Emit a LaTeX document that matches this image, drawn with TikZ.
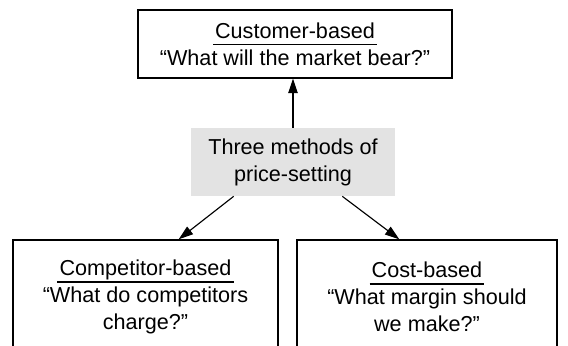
\documentclass[tikz,border=0pt]{standalone}
\usepackage{fontspec}
\setmainfont{Liberation Sans}
\usetikzlibrary{arrows.meta,positioning,calc}

% heading with a rule underneath
\newcommand{\methodhead}[1]{\vtop{\hbox{\raisebox{0pt}[\height][0pt]{\kern1.2pt#1\kern1.2pt}}\kern3.2pt\hrule height 0.8pt}}

\begin{document}
\begin{tikzpicture}[
		x=1cm,y=1cm,
		>={Triangle[length=2.9mm,width=1.9mm]},
		every node/.style={font=\fontsize{12.3}{15.3}\selectfont, align=center},
		methodbox/.style={draw, line width=0.8pt, inner sep=0pt},
		centrebox/.style={fill=black!11, inner sep=0pt, minimum width=4.08cm, minimum height=1.36cm},
		link/.style={->, line width=0.65pt}
		]
		
		% =========================
		% Frame
		% =========================
		\useasboundingbox (0,0) rectangle (11.36,6.92);
		\clip (0,0) rectangle (11.36,6.92);
		
		% =========================
		% Centre: the three methods
		% =========================
		\node[centrebox] (methods) at (5.86,3.68) {Three methods of\\price-setting};
		
		% top method
		\node[methodbox, minimum width=6.28cm, minimum height=1.36cm] (customer) at (5.90,6.04)
		{\methodhead{Customer-based}\\“What will the market bear?”};
		
		% bottom methods (boxes run past the lower edge)
		\node[methodbox, minimum width=5.30cm, minimum height=2.28cm] (competitor) at (2.91,0.98)
		{\methodhead{Competitor-based}\\“What do competitors\\charge?”};
		
		\node[methodbox, minimum width=5.20cm, minimum height=2.28cm] (cost) at (8.54,0.98)
		{\methodhead{Cost-based}\\“What margin should\\we make?”};
		
		% =========================
		% Arrows
		% =========================
		\draw[link] (methods.north) -- (methods.north |- customer.south);
		\draw[link] ([xshift=0.86cm]methods.south west) -- ([xshift=-2.00cm]competitor.north east);
		\draw[link] ([xshift=-1.06cm]methods.south east) -- ([xshift=2.06cm]cost.north west);
		
	\end{tikzpicture}
\end{document}
